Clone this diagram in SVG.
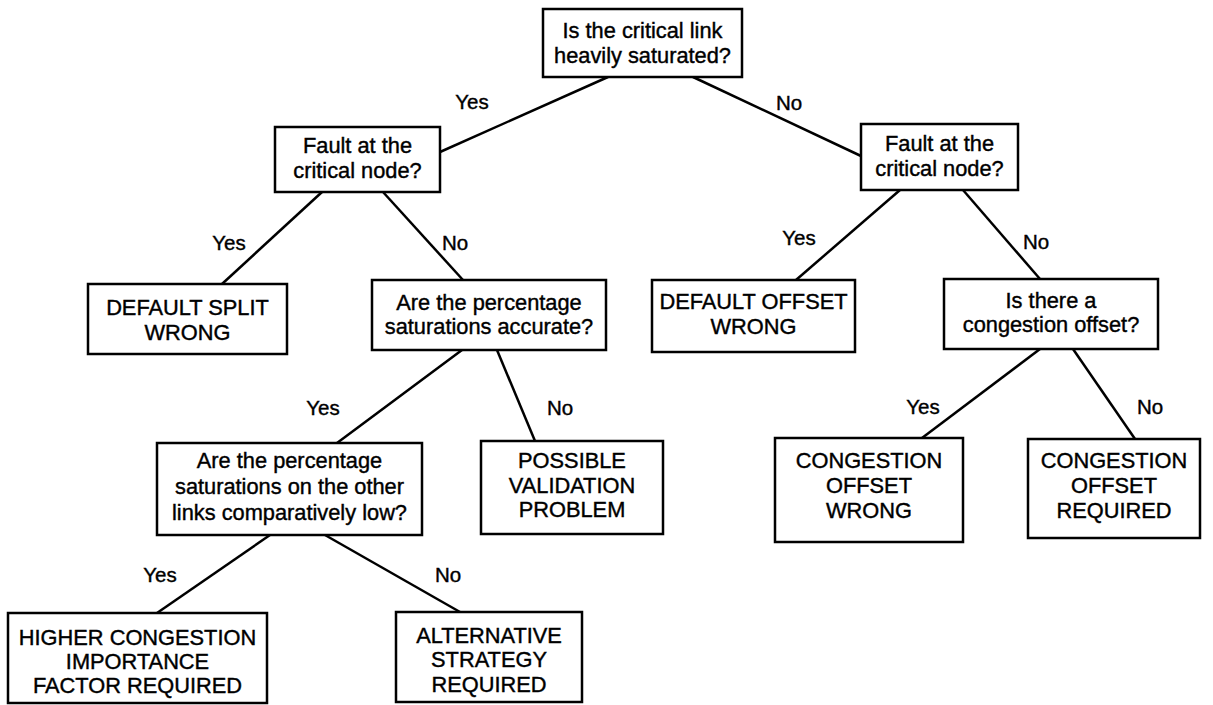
<svg xmlns="http://www.w3.org/2000/svg" width="1213" height="705" viewBox="0 0 1213 705">
<style>
.box{fill:#fff;stroke:#000;stroke-width:2.5}
.t{font-family:"Liberation Sans",Arial,sans-serif;font-size:21.8px;fill:#000;stroke:#000;stroke-width:0.4;text-anchor:middle}
.lbl{font-family:"Liberation Sans",Arial,sans-serif;font-size:20.5px;fill:#000;stroke:#000;stroke-width:0.4;text-anchor:middle}
.c line{stroke:#000;stroke-width:2.5}
</style>
<rect width="1213" height="705" fill="#fff"/>
<g id="connectors" class="c">
<line x1="608" y1="77" x2="440" y2="152"/>
<line x1="693" y1="77" x2="861" y2="156"/>
<line x1="322" y1="192" x2="222" y2="284"/>
<line x1="383" y1="192" x2="463" y2="280"/>
<line x1="900" y1="190" x2="796" y2="280"/>
<line x1="963" y1="190" x2="1040" y2="279"/>
<line x1="462" y1="350" x2="337" y2="443"/>
<line x1="497" y1="350" x2="535" y2="441"/>
<line x1="1040" y1="349" x2="922" y2="438"/>
<line x1="1073" y1="349" x2="1135" y2="439"/>
<line x1="270" y1="535" x2="157" y2="613"/>
<line x1="325" y1="535" x2="460" y2="612"/>
</g>
<g id="labels">
<text class="lbl" x="472" y="109">Yes</text>
<text class="lbl" x="789" y="110">No</text>
<text class="lbl" x="229" y="250">Yes</text>
<text class="lbl" x="455" y="250">No</text>
<text class="lbl" x="799" y="245">Yes</text>
<text class="lbl" x="1036" y="249">No</text>
<text class="lbl" x="323" y="415">Yes</text>
<text class="lbl" x="560" y="415">No</text>
<text class="lbl" x="923" y="414">Yes</text>
<text class="lbl" x="1150" y="414">No</text>
<text class="lbl" x="160" y="582">Yes</text>
<text class="lbl" x="448" y="582">No</text>
</g>
<g id="n_root"><rect class="box" x="543" y="9" width="199" height="68"/><text class="t" x="642.5" y="38">Is the critical link</text><text class="t" x="642.5" y="63">heavily saturated?</text></g>
<g id="n_fault_left"><rect class="box" x="275" y="127" width="165" height="65"/><text class="t" x="357.5" y="153">Fault at the</text><text class="t" x="357.5" y="178">critical node?</text></g>
<g id="n_fault_right"><rect class="box" x="861" y="124" width="157" height="66"/><text class="t" x="939.5" y="151">Fault at the</text><text class="t" x="939.5" y="176">critical node?</text></g>
<g id="n_split"><rect class="box" x="88" y="284" width="199" height="70"/><text class="t" x="187.5" y="315">DEFAULT SPLIT</text><text class="t" x="187.5" y="340">WRONG</text></g>
<g id="n_accurate"><rect class="box" x="372" y="280" width="234" height="70"/><text class="t" x="489" y="310">Are the percentage</text><text class="t" x="489" y="334">saturations accurate?</text></g>
<g id="n_offset"><rect class="box" x="652" y="280" width="203" height="72"/><text class="t" x="753.5" y="309">DEFAULT OFFSET</text><text class="t" x="753.5" y="334">WRONG</text></g>
<g id="n_congq"><rect class="box" x="944" y="279" width="214" height="70"/><text class="t" x="1051" y="308">Is there a</text><text class="t" x="1051" y="332">congestion offset?</text></g>
<g id="n_other"><rect class="box" x="157" y="443" width="265" height="92"/><text class="t" x="289.5" y="468">Are the percentage</text><text class="t" x="289.5" y="494">saturations on the other</text><text class="t" x="289.5" y="520">links comparatively low?</text></g>
<g id="n_possible"><rect class="box" x="481" y="441" width="182" height="93"/><text class="t" x="572" y="468">POSSIBLE</text><text class="t" x="572" y="493">VALIDATION</text><text class="t" x="572" y="517">PROBLEM</text></g>
<g id="n_cwrong"><rect class="box" x="775" y="438" width="188" height="104"/><text class="t" x="869" y="468">CONGESTION</text><text class="t" x="869" y="493">OFFSET</text><text class="t" x="869" y="518">WRONG</text></g>
<g id="n_creq"><rect class="box" x="1028" y="439" width="172" height="99"/><text class="t" x="1114" y="468">CONGESTION</text><text class="t" x="1114" y="493">OFFSET</text><text class="t" x="1114" y="518">REQUIRED</text></g>
<g id="n_higher"><rect class="box" x="8" y="613" width="259" height="90"/><text class="t" x="137.5" y="645">HIGHER CONGESTION</text><text class="t" x="137.5" y="669">IMPORTANCE</text><text class="t" x="137.5" y="693">FACTOR REQUIRED</text></g>
<g id="n_alt"><rect class="box" x="396" y="612" width="186" height="90"/><text class="t" x="489" y="643">ALTERNATIVE</text><text class="t" x="489" y="667">STRATEGY</text><text class="t" x="489" y="692">REQUIRED</text></g>
</svg>
